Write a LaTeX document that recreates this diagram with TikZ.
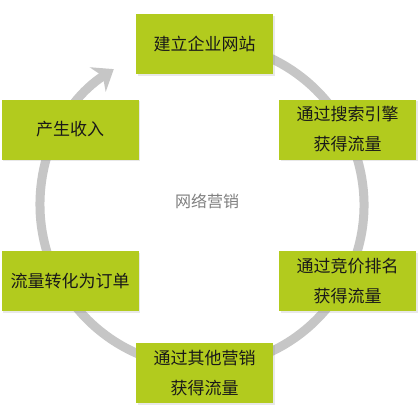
\documentclass[tikz,border=0pt]{standalone}
\usepackage{fontspec}
\newfontfamily\cjk{Noto Sans CJK SC}
\usetikzlibrary{arrows.meta,shadows,calc}
\definecolor{leaf}{HTML}{B2CB1E}
\definecolor{ring}{HTML}{C6C6C6}
\begin{document}
\begin{tikzpicture}[x=1pt,y=1pt,
    box/.style={fill=leaf, minimum width=137pt, minimum height=60pt, inner sep=0pt,
      align=center, text=black!90, font=\cjk\fontsize{17}{30}\selectfont,
      drop shadow={opacity=0.18, shadow xshift=1.5pt, shadow yshift=-1.5pt}},
    cycle/.style={draw=ring, line width=9pt}]
  \useasboundingbox[fill=white] (0,0) rectangle (419,-410);
  \coordinate (hub) at (202,-205);
  \draw[cycle, -{Stealth[length=19pt,width=29pt,inset=6pt]}]
    ($(hub)+(100:162)$) arc[start angle=100, end angle=-237, radius=162];

  \node[text=black!50, font=\cjk\fontsize{16}{20}\selectfont] (net) at (207,-201) {网络营销};
  \node[box] (site) at (204.5,-44) {建立企业网站};
  \node[box] (search) at (347.5,-129.5) {通过搜索引擎\\获得流量};
  \node[box] (bid) at (347.5,-281) {通过竞价排名\\获得流量};
  \node[box] (other) at (204.5,-373) {通过其他营销\\获得流量};
  \node[box] (order) at (70,-281) {流量转化为订单};
  \node[box] (income) at (70,-129.5) {产生收入};
\end{tikzpicture}
\end{document}
